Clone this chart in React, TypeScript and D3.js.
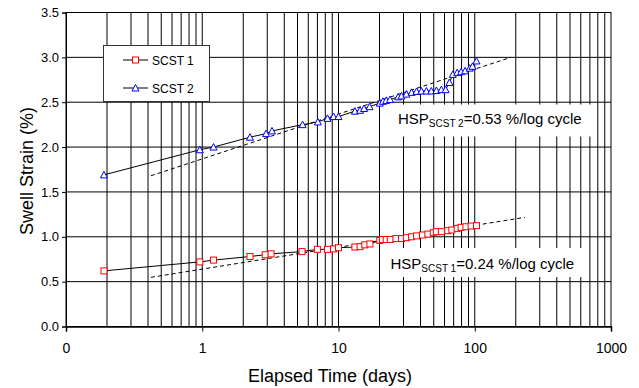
import { useEffect, useRef } from 'react';
import * as d3 from 'd3';

// elapsed time (days) and swell strain (%)
const scst1Days = [0.19, 0.96, 1.21, 2.24, 2.9, 3.2, 5.4, 7.0, 8.3, 9.2, 10.0, 13.2, 14.4, 15.6, 17.0, 20.1, 21.0, 22.4, 24.0, 26.4, 29.0, 31.5, 34.4, 37.4, 41.3, 45.3, 49.6, 52.3, 56.9, 63.3, 67.9, 74.2, 79.4, 86.1, 94.0, 103];
const scst1Swell = [0.62, 0.72, 0.74, 0.78, 0.80, 0.81, 0.835, 0.86, 0.86, 0.865, 0.878, 0.886, 0.89, 0.91, 0.92, 0.96, 0.97, 0.97, 0.97, 0.98, 0.98, 0.99, 1.00, 1.01, 1.02, 1.03, 1.045, 1.057, 1.057, 1.068, 1.076, 1.094, 1.105, 1.112, 1.12, 1.124];

const scst2Days = [0.19, 0.96, 1.21, 2.24, 2.94, 3.25, 5.45, 7.06, 8.3, 9.2, 10.0, 13.2, 14.4, 15.4, 16.9, 20.1, 21.2, 22.4, 23.9, 27.4, 29.0, 31.5, 34.4, 37.4, 40.6, 44.2, 48.0, 52.3, 56.9, 61.1, 65.2, 69.0, 74.3, 79.4, 85.0, 91.8, 96.3, 103];
const scst2Swell = [1.69, 1.97, 2.0, 2.11, 2.15, 2.18, 2.25, 2.28, 2.32, 2.34, 2.34, 2.40, 2.41, 2.43, 2.45, 2.49, 2.51, 2.52, 2.53, 2.56, 2.57, 2.59, 2.61, 2.62, 2.625, 2.625, 2.625, 2.63, 2.64, 2.64, 2.72, 2.81, 2.83, 2.84, 2.85, 2.88, 2.90, 2.96];

// fitted log lines (dashed)
const trend1Days = [0.42, 234];
const trend1Swell = [0.548, 1.217];
const trend2Days = [0.42, 184];
const trend2Swell = [1.68, 3.0];

const xTickValues = [0.1, 1, 10, 100, 1000];
const xTickLabels = ['0', '1', '10', '100', '1000'];
const yTickValues = [0, 0.5, 1.0, 1.5, 2.0, 2.5, 3.0, 3.5];

const FONT = 'Liberation Sans, Arial, sans-serif';

export default function App() {
  const svgRef = useRef<SVGSVGElement>(null);

  useEffect(() => {
    if (!svgRef.current) return;
    const svg = d3.select(svgRef.current);
    svg.selectAll('*').remove();

    const left = 66, right = 611, top = 12.5, bottom = 326.5;

    const x = d3.scaleLog().domain([0.1, 1000]).range([left, right]);
    const y = d3.scaleLinear().domain([0, 3.5]).range([bottom, top]);

    svg.append('rect').attr('width', 639).attr('height', 388).attr('fill', '#fff');

    // log gridlines (2..9 in each decade plus the decades)
    const minor: number[] = [];
    [0.1, 1, 10, 100].forEach((d) => {
      for (let k = 2; k <= 9; k++) minor.push(d * k);
    });
    const grid = svg.append('g');
    grid.selectAll('line.v')
      .data(minor.concat([1, 10, 100]))
      .join('line')
      .attr('x1', (d) => x(d))
      .attr('x2', (d) => x(d))
      .attr('y1', top)
      .attr('y2', bottom)
      .attr('stroke', '#000')
      .attr('stroke-width', 1);
    grid.selectAll('line.h')
      .data(yTickValues.slice(1))
      .join('line')
      .attr('x1', left)
      .attr('x2', right)
      .attr('y1', (d) => y(d))
      .attr('y2', (d) => y(d))
      .attr('stroke', '#000')
      .attr('stroke-width', 1);

    // white label boxes over the grid
    svg.append('rect').attr('x', 397).attr('y', 104.5).attr('width', 196).attr('height', 32).attr('fill', '#fff');
    svg.append('rect').attr('x', 382).attr('y', 248).attr('width', 200).attr('height', 29).attr('fill', '#fff');

    svg.append('rect')
      .attr('x', left).attr('y', top)
      .attr('width', right - left).attr('height', bottom - top)
      .attr('fill', 'none').attr('stroke', '#000');

    // axes
    const xAxis = svg.append('g')
      .attr('transform', `translate(0,${bottom})`)
      .call(d3.axisBottom(x)
        .tickValues(xTickValues)
        .tickFormat((d, i) => xTickLabels[i])
        .tickSize(5)
        .tickPadding(12));
    xAxis.select('.domain').attr('stroke', '#000').attr('stroke-width', 1.5);
    xAxis.selectAll('text').style('font-family', FONT).style('font-size', '14px').style('fill', '#000');

    const yAxis = svg.append('g')
      .attr('transform', `translate(${left},0)`)
      .call(d3.axisLeft(y)
        .tickValues(yTickValues)
        .tickFormat(d3.format('.1f'))
        .tickSize(4)
        .tickPadding(3));
    yAxis.select('.domain').attr('stroke', '#000');
    yAxis.selectAll('text').style('font-family', FONT).style('font-size', '13px').style('fill', '#000');

    // trend lines
    const drawTrend = (days: number[], vals: number[]) => {
      svg.append('path')
        .attr('d', d3.line<number>().x((d) => x(d)).y((d, i) => y(vals[i]))(days))
        .attr('fill', 'none')
        .attr('stroke', '#000')
        .attr('stroke-width', 1)
        .attr('stroke-dasharray', '4,3');
    };
    drawTrend(trend1Days, trend1Swell);
    drawTrend(trend2Days, trend2Swell);

    // data lines + markers
    const drawSeries = (days: number[], vals: number[], kind: 'square' | 'triangle') => {
      svg.append('path')
        .attr('d', d3.line<number>().x((d) => x(d)).y((d, i) => y(vals[i]))(days))
        .attr('fill', 'none')
        .attr('stroke', '#000')
        .attr('stroke-width', 1);
      const g = svg.append('g');
      days.forEach((d, i) => {
        const cx = x(d), cy = y(vals[i]);
        if (kind === 'square') {
          g.append('rect')
            .attr('x', cx - 3).attr('y', cy - 3)
            .attr('width', 6).attr('height', 6)
            .attr('fill', '#fff').attr('stroke', '#ff0000').attr('stroke-width', 1);
        } else {
          g.append('path')
            .attr('d', `M${cx},${cy - 3.5}L${cx + 3.5},${cy + 3}L${cx - 3.5},${cy + 3}Z`)
            .attr('fill', '#fff').attr('stroke', '#0000ff').attr('stroke-width', 1);
        }
      });
    };
    drawSeries(scst1Days, scst1Swell, 'square');
    drawSeries(scst2Days, scst2Swell, 'triangle');

    // annotations
    const annot = (tx: number, ty: number, sub: string, rest: string) => {
      const t = svg.append('text')
        .attr('x', tx).attr('y', ty)
        .style('font-family', FONT).style('font-size', '15px').style('fill', '#000');
      t.append('tspan').text('HSP');
      t.append('tspan').attr('dy', 3).style('font-size', '10px').text(sub);
      t.append('tspan').attr('dy', -3).text(rest);
    };
    annot(398, 123.5, 'SCST 2', '=0.53 %/log cycle');
    annot(390.5, 268.5, 'SCST 1', '=0.24 %/log cycle');

    // legend
    const lg = svg.append('g');
    lg.append('rect')
      .attr('x', 103.5).attr('y', 45.5).attr('width', 106).attr('height', 56)
      .attr('fill', '#fff').attr('stroke', '#333').attr('stroke-width', 1);
    const items = [
      { label: 'SCST 1', kind: 'square', cy: 60 },
      { label: 'SCST 2', kind: 'triangle', cy: 88 },
    ];
    items.forEach((it) => {
      lg.append('line')
        .attr('x1', 123).attr('x2', 148).attr('y1', it.cy).attr('y2', it.cy)
        .attr('stroke', '#000');
      if (it.kind === 'square') {
        lg.append('rect')
          .attr('x', 132.5).attr('y', it.cy - 3).attr('width', 6).attr('height', 6)
          .attr('fill', '#fff').attr('stroke', '#ff0000');
      } else {
        lg.append('path')
          .attr('d', `M135.5,${it.cy - 3.5}L139,${it.cy + 3}L132,${it.cy + 3}Z`)
          .attr('fill', '#fff').attr('stroke', '#0000ff');
      }
      lg.append('text')
        .attr('x', 152).attr('y', it.cy + 4.5)
        .style('font-family', FONT).style('font-size', '12px').style('fill', '#000')
        .text(it.label);
    });

    // axis titles
    svg.append('text')
      .attr('x', 330).attr('y', 382)
      .attr('text-anchor', 'middle')
      .style('font-family', FONT).style('font-size', '18px').style('fill', '#000')
      .text('Elapsed Time (days)');
    svg.append('text')
      .attr('transform', 'translate(33,171) rotate(-90)')
      .attr('text-anchor', 'middle')
      .style('font-family', FONT).style('font-size', '18px').style('fill', '#000')
      .text('Swell Strain (%)');
  }, []);

  return (
    <svg
      ref={svgRef}
      width={639}
      height={388}
      style={{ position: 'absolute', left: 0, top: 0 }}
    />
  );
}
